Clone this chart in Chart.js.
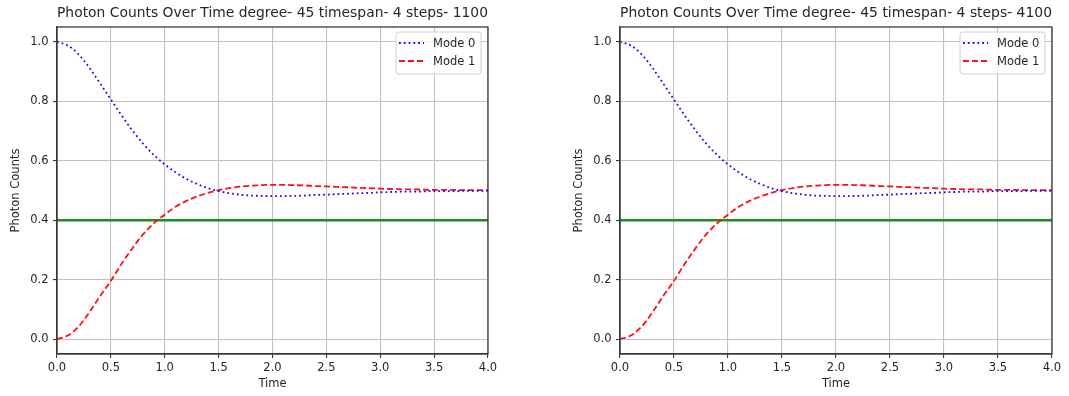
<!DOCTYPE html>
<html>
<head>
<meta charset="utf-8">
<script src="https://cdn.jsdelivr.net/npm/chart.js@4.4.1/dist/chart.umd.min.js"></script>
<style>
  html, body { margin: 0; padding: 0; background: #fff; }
  .wrap { position: absolute; top: 0; }
</style>
</head>
<body>
<div class="wrap" style="left:0"><canvas id="chartLeft" width="534" height="396"></canvas></div>
<div class="wrap" style="left:534px"><canvas id="chartRight" width="535" height="396"></canvas></div>
<script>
// values
var time = [0.0, 0.1, 0.2, 0.3, 0.4, 0.5, 0.6, 0.7, 0.8, 0.9,
            1.0, 1.1, 1.2, 1.3, 1.4, 1.5, 1.6, 1.7, 1.8, 1.9,
            2.0, 2.1, 2.2, 2.3, 2.4, 2.5, 2.6, 2.7, 2.8, 2.9,
            3.0, 3.1, 3.2, 3.3, 3.4, 3.5, 3.6, 3.7, 3.8, 3.9, 4.0];
var mode0 = [1.000, 0.988, 0.958, 0.913, 0.860, 0.806, 0.752, 0.702, 0.657, 0.619,
             0.588, 0.561, 0.539, 0.522, 0.508, 0.498, 0.491, 0.486, 0.483, 0.482,
             0.481, 0.481, 0.482, 0.483, 0.485, 0.486, 0.488, 0.489, 0.491, 0.492,
             0.494, 0.495, 0.496, 0.496, 0.497, 0.498, 0.498, 0.498, 0.499, 0.499, 0.499];
var mode1 = [0.000, 0.012, 0.042, 0.090, 0.145, 0.196, 0.254, 0.306, 0.353, 0.390,
             0.419, 0.445, 0.465, 0.480, 0.492, 0.501, 0.508, 0.513, 0.516, 0.518,
             0.519, 0.519, 0.518, 0.517, 0.515, 0.514, 0.512, 0.511, 0.509, 0.508,
             0.506, 0.505, 0.504, 0.504, 0.503, 0.502, 0.502, 0.502, 0.501, 0.501, 0.501];
var thresholdX = [0, 4];
var thresholdY = [0.4, 0.4];
var xTicks = [0.0, 0.5, 1.0, 1.5, 2.0, 2.5, 3.0, 3.5, 4.0];
var yTicks = [0.0, 0.2, 0.4, 0.6, 0.8, 1.0];
var titles = ['Photon Counts Over Time degree- 45 timespan- 4 steps- 1100',
              'Photon Counts Over Time degree- 45 timespan- 4 steps- 4100'];

var FONT = 'DejaVu Sans';
var TXT = '#262626';

function pts(xs, ys) {
  var out = [];
  for (var i = 0; i < xs.length; i++) out.push({x: xs[i], y: ys[i]});
  return out;
}

// spines on all four sides + legend box inside the plot, top right
var framePlugin = {
  id: 'frame',
  afterDraw: function (chart) {
    var c = chart.ctx, a = chart.chartArea;
    c.save();
    c.strokeStyle = '#3a3a3a';
    c.lineWidth = 1.3;
    c.strokeRect(a.left, a.top, a.right - a.left, a.bottom - a.top);

    var w = 85, h = 42;
    var x0 = a.right - 7 - w, y0 = a.top + 5;
    c.beginPath();
    c.roundRect(x0, y0, w, h, 3);
    c.fillStyle = 'rgba(255,255,255,0.8)';
    c.fill();
    c.strokeStyle = '#d0d0d0';
    c.lineWidth = 1;
    c.stroke();
    c.font = '11.5px "' + FONT + '"';
    c.textBaseline = 'middle';
    var rows = [y0 + 11, y0 + 29];
    for (var i = 0; i < 2; i++) {
      var ds = chart.data.datasets[i];
      c.beginPath();
      c.setLineDash(ds.borderDash);
      c.strokeStyle = ds.borderColor;
      c.lineWidth = ds.borderWidth;
      c.moveTo(x0 + 3, rows[i]);
      c.lineTo(x0 + 28, rows[i]);
      c.stroke();
      c.setLineDash([]);
      c.fillStyle = TXT;
      c.fillText(ds.label, x0 + 37, rows[i] + 1);
    }
    c.restore();
  }
};

function makeChart(id, title, padLeft, padRight) {
  var ctx = document.getElementById(id).getContext('2d');
  return new Chart(ctx, {
    type: 'line',
    data: {
      datasets: [{
        label: 'Mode 0',
        data: pts(time, mode0),
        borderColor: '#1010ff',
        borderWidth: 1.8,
        borderDash: [1.8, 3],
        pointRadius: 0,
        cubicInterpolationMode: 'monotone'
      }, {
        label: 'Mode 1',
        data: pts(time, mode1),
        borderColor: '#ff1010',
        borderWidth: 1.8,
        borderDash: [6, 3],
        pointRadius: 0,
        cubicInterpolationMode: 'monotone'
      }, {
        label: 'threshold',
        data: pts(thresholdX, thresholdY),
        borderColor: '#1f8c1f',
        borderWidth: 2.4,
        borderDash: [],
        pointRadius: 0
      }]
    },
    options: {
      responsive: false,
      animation: false,
      layout: { padding: { left: padLeft, right: padRight, top: 0, bottom: 0 } },
      plugins: {
        legend: { display: false },
        tooltip: { enabled: false },
        title: {
          display: true,
          text: title,
          fullSize: false,
          color: TXT,
          font: { family: FONT, size: 14.5, weight: 'normal', lineHeight: 1.2 },
          padding: { top: 4.2, bottom: 5.4 }
        }
      },
      scales: {
        x: {
          type: 'linear',
          min: 0, max: 4,
          afterBuildTicks: function (s) { s.ticks = xTicks.map(function (v) { return {value: v}; }); },
          afterFit: function (s) { s.height = 42; },
          ticks: {
            color: TXT, padding: 3, maxRotation: 0,
            font: { family: FONT, size: 11.5 },
            callback: function (v) { return Number(v).toFixed(1); }
          },
          grid: { color: '#c2c2c2', lineWidth: 1.1, tickLength: 4, tickColor: '#3a3a3a' },
          border: { display: true, color: '#3a3a3a', width: 1.3 },
          title: {
            display: true, text: 'Time', color: TXT,
            font: { family: FONT, size: 11.5, lineHeight: 1.2 },
            padding: { top: 0, bottom: 5.5 }
          }
        },
        y: {
          min: -0.05, max: 1.05,
          afterBuildTicks: function (s) { s.ticks = yTicks.map(function (v) { return {value: v}; }); },
          afterFit: function (s) { s.width = 57; },
          ticks: {
            color: TXT, padding: 4.5,
            font: { family: FONT, size: 11.5 },
            callback: function (v) { return Number(v).toFixed(1); }
          },
          grid: { color: '#c2c2c2', lineWidth: 1.1, tickLength: 4, tickColor: '#3a3a3a' },
          border: { display: true, color: '#3a3a3a', width: 1.3 },
          title: {
            display: true, text: 'Photon Counts', color: TXT,
            font: { family: FONT, size: 11.5, lineHeight: 1.2 },
            padding: { top: 9.6, bottom: 0 }
          }
        }
      }
    },
    plugins: [framePlugin]
  });
}

var chartLeft = makeChart('chartLeft', titles[0], 0, 46);
var chartRight = makeChart('chartRight', titles[1], 29, 17);
</script>
</body>
</html>
